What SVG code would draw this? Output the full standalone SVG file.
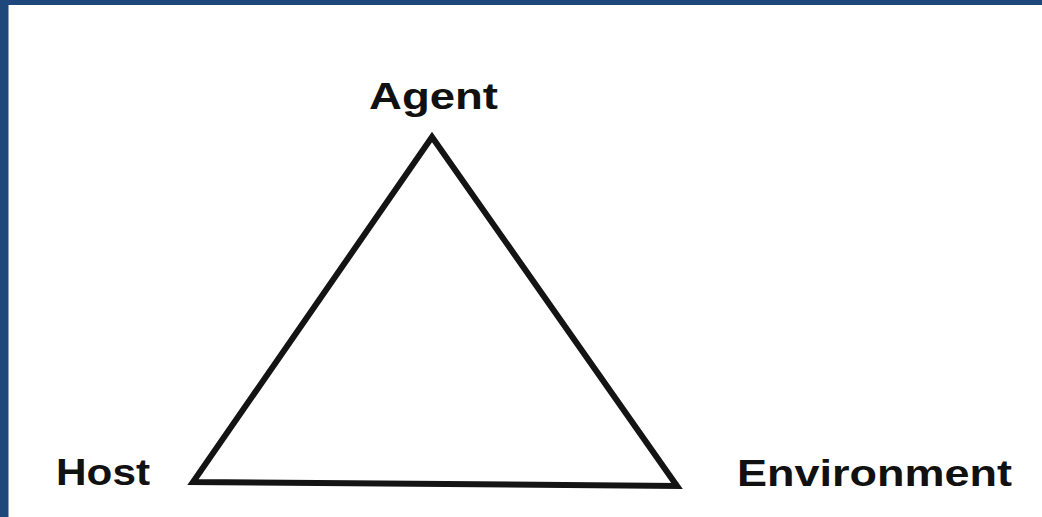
<svg xmlns="http://www.w3.org/2000/svg" width="1042" height="517" viewBox="0 0 1042 517">
<style>
.lbl{font-family:"Liberation Sans",Arial,sans-serif;font-weight:bold;font-size:36px;fill:#111}
.edge{stroke:#141414;stroke-width:6;fill:none;stroke-linejoin:miter;stroke-linecap:butt}
</style>
<rect x="0" y="0" width="1042" height="517" fill="#ffffff"/>
<rect x="0" y="0" width="1042" height="5" fill="#1E487C"/>
<rect x="0" y="0" width="8.5" height="517" fill="#1E487C"/>
<g id="connectors">
<polygon class="edge" points="432,137 677,486 193,482"/>
</g>
<g id="agent"><text class="lbl" x="369" y="109" textLength="129" lengthAdjust="spacingAndGlyphs">Agent</text></g>
<g id="host"><text class="lbl" x="56" y="485" textLength="94" lengthAdjust="spacingAndGlyphs">Host</text></g>
<g id="environment"><text class="lbl" x="737" y="486" textLength="275" lengthAdjust="spacingAndGlyphs">Environment</text></g>
</svg>
